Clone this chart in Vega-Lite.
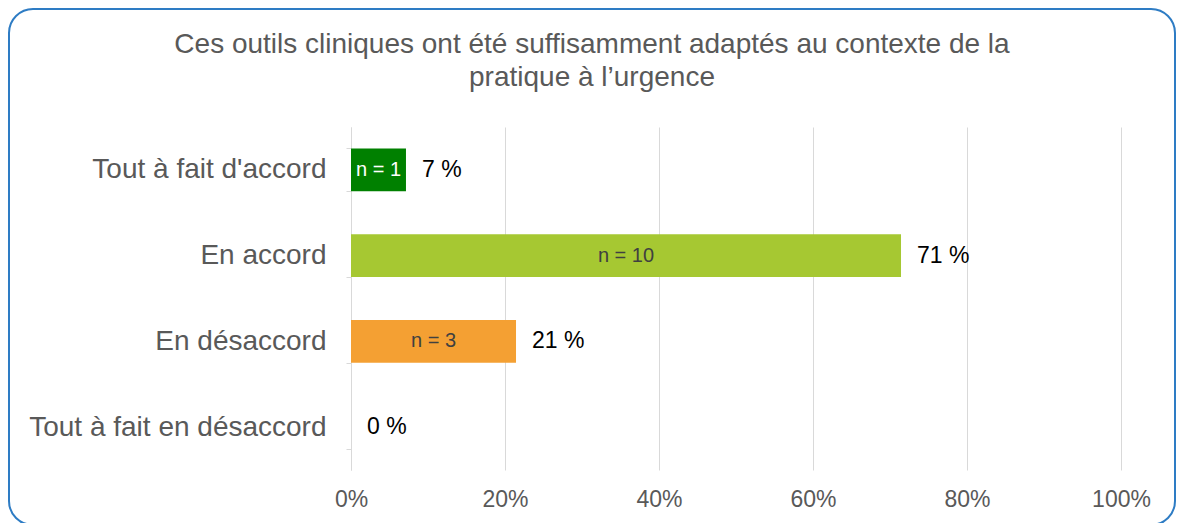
{
  "$schema": "https://vega.github.io/schema/vega-lite/v6.json",
  "autosize": "none",
  "padding": {"left": 9, "top": 9, "right": 2, "bottom": 0},
  "width": 1166,
  "height": 516,
  "background": "white",
  "config": {
    "view": {"stroke": "#2E7CC4", "strokeWidth": 2, "cornerRadius": 24},
    "font": "Liberation Sans"
  },
  "title": {
    "text": ["Ces outils cliniques ont été suffisamment adaptés au contexte de la", "pratique à l’urgence"],
    "fontSize": 28,
    "fontWeight": "normal",
    "font": "Liberation Sans",
    "color": "#595959",
    "anchor": "middle",
    "frame": "group",
    "lineHeight": 33,
    "offset": -97
  },
  "data": {
    "values": [
      {"cat": "Tout à fait d'accord", "pct": 0.0714, "n": 1, "pctLabel": "7 %", "nLabel": "n = 1"},
      {"cat": "En accord", "pct": 0.7143, "n": 10, "pctLabel": "71 %", "nLabel": "n = 10"},
      {"cat": "En désaccord", "pct": 0.2143, "n": 3, "pctLabel": "21 %", "nLabel": "n = 3"},
      {"cat": "Tout à fait en désaccord", "pct": 0, "n": 0, "pctLabel": "0 %", "nLabel": ""}
    ]
  },
  "encoding": {
    "y": {
      "field": "cat",
      "type": "nominal",
      "sort": ["Tout à fait d'accord", "En accord", "En désaccord", "Tout à fait en désaccord"],
      "scale": {"range": [118, 461], "paddingInner": 0.5, "paddingOuter": 0.25},
      "axis": {
        "title": null,
        "offset": -342,
        "domain": true,
        "domainColor": "#d9d9d9",
        "domainWidth": 1,
        "ticks": true,
        "tickBand": "extent",
        "tickColor": "#d9d9d9",
        "tickSize": 5,
        "labelFont": "Liberation Sans",
        "labelFontSize": 28,
        "labelColor": "#595959",
        "labelPadding": 20,
        "labelLimit": 400,
        "grid": false
      }
    },
    "x": {
      "field": "pct",
      "type": "quantitative",
      "scale": {"domain": [0, 1], "range": [342, 1112], "nice": false},
      "axis": {
        "title": null,
        "orient": "top",
        "offset": -461,
        "values": [0, 0.2, 0.4, 0.6, 0.8, 1],
        "format": ".0%",
        "domain": false,
        "ticks": false,
        "grid": true,
        "gridColor": "#d9d9d9",
        "gridWidth": 1,
        "labelFont": "Liberation Sans",
        "labelFontSize": 23,
        "labelColor": "#595959",
        "labelBaseline": "top",
        "labelAlign": "center",
        "labelFlush": false,
        "labelPadding": -18
      }
    }
  },
  "layer": [
    {
      "mark": {"type": "bar"},
      "encoding": {
        "color": {
          "field": "cat",
          "type": "nominal",
          "scale": {
            "domain": ["Tout à fait d'accord", "En accord", "En désaccord", "Tout à fait en désaccord"],
            "range": ["#008000", "#A6C832", "#F4A033", "#C00000"]
          },
          "legend": null
        }
      }
    },
    {
      "mark": {"type": "text", "align": "left", "baseline": "middle", "dx": 16, "fontSize": 23, "font": "Liberation Sans", "color": "#000000"},
      "encoding": {
        "text": {"field": "pctLabel"}
      }
    },
    {
      "transform": [{"filter": "datum.n > 0"}, {"calculate": "datum.pct / 2", "as": "mid"}],
      "mark": {"type": "text", "align": "center", "baseline": "middle", "dy": 0, "fontSize": 20, "font": "Liberation Sans"},
      "encoding": {
        "x": {"field": "mid", "type": "quantitative"},
        "text": {"field": "nLabel"},
        "color": {"condition": {"test": "datum.n == 1", "value": "#ffffff"}, "value": "#404040"}
      }
    }
  ]
}
